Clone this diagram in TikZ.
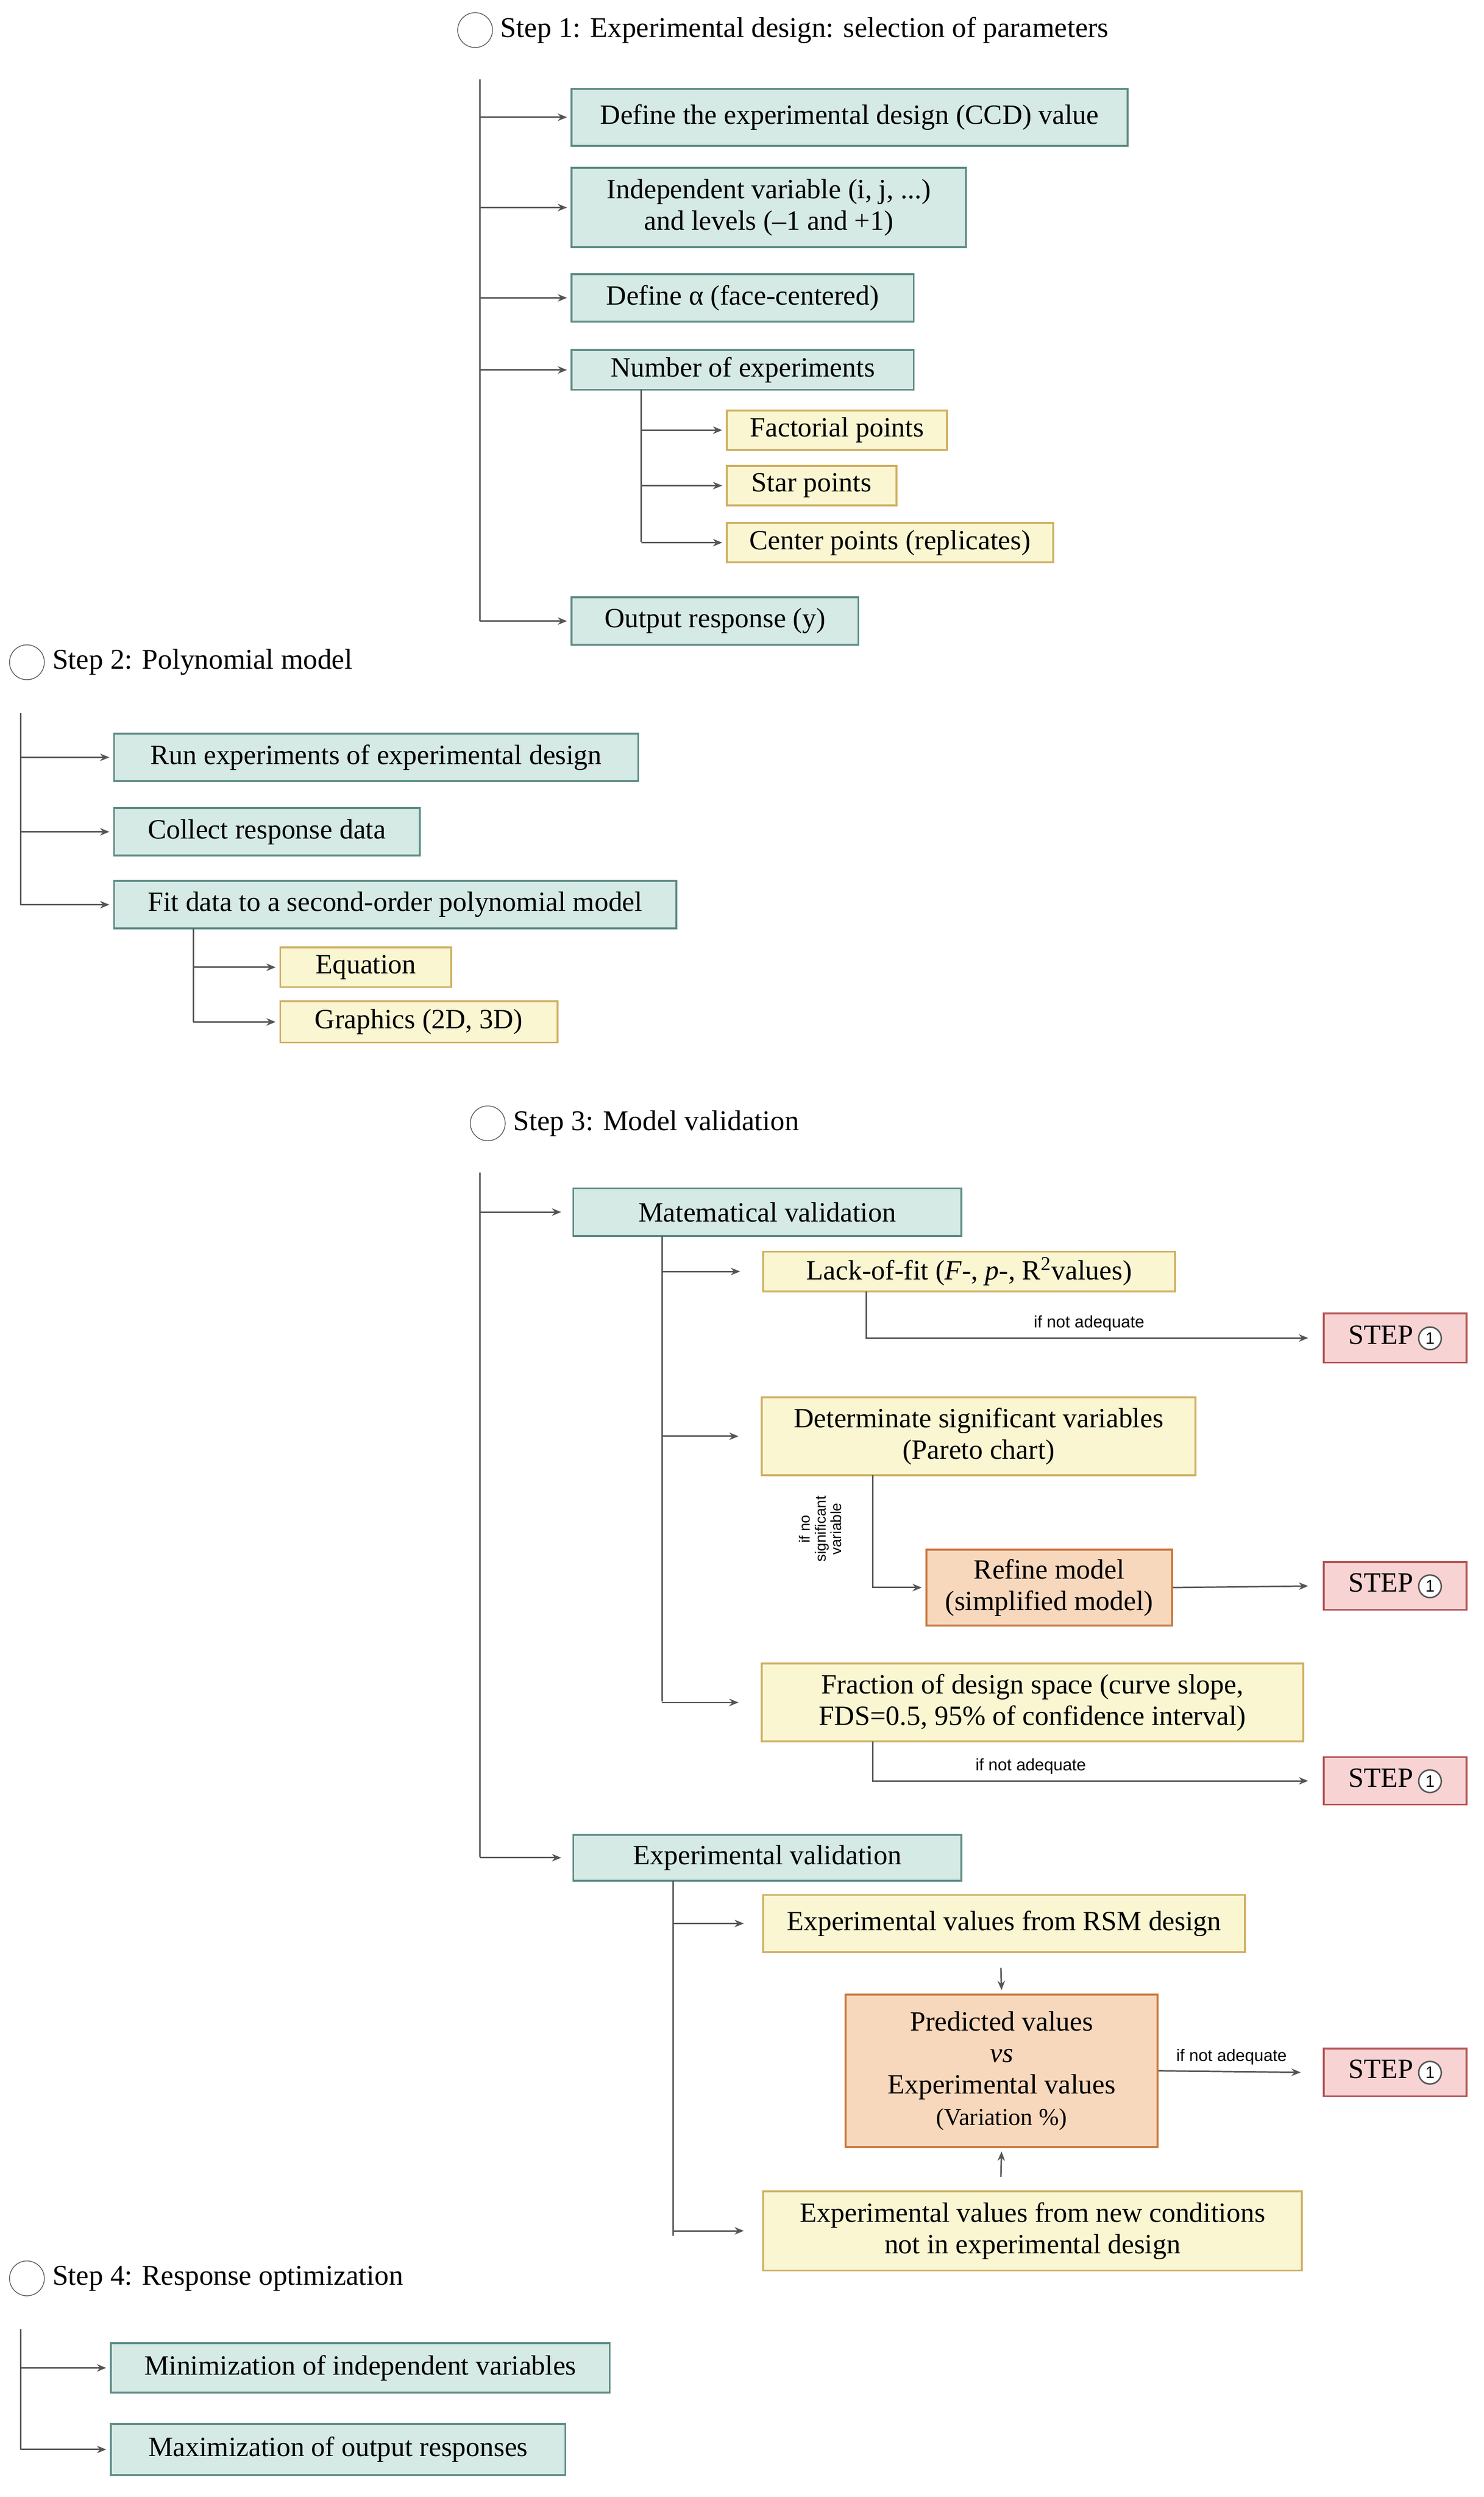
\documentclass[tikz,border=0pt]{standalone}
\usepackage{fontspec}
\setmainfont{Liberation Serif}
\newfontfamily\sansf{Liberation Sans}
\usetikzlibrary{arrows.meta}
\definecolor{tealf}{HTML}{D5E9E5}\definecolor{teald}{HTML}{5E8C86}
\definecolor{yelf}{HTML}{FAF6D2}\definecolor{yeld}{HTML}{CFB063}
\definecolor{orf}{HTML}{F8D8BC}\definecolor{ord}{HTML}{C9773F}
\definecolor{pkf}{HTML}{F7D3D3}\definecolor{pkd}{HTML}{B65454}
\definecolor{ln}{HTML}{555555}
\newcommand\bx[7]{\node[#2, minimum width={(#5-#3)*0.03cm}, minimum height={(#6-#4)*0.03cm}] (#1) at ({(#3+#5)/2},{(#4+#6)/2}) {#7};}
\newcommand\onec{\tikz[baseline=(c.base)]\node[circle,draw=ln,fill=white,line width=0.8pt,minimum width=0pt,minimum height=0pt,inner sep=1.5pt,font=\sansf\small](c){1};}
\begin{document}
\begin{tikzpicture}[x=0.03cm,y=-0.03cm,
 box/.style={draw, line width=1pt, inner sep=0pt, align=center, font=\fontsize{15}{17}\selectfont},
 tl/.style={box,fill=tealf,draw=teald},
 yl/.style={box,fill=yelf,draw=yeld},
 org/.style={box,fill=orf,draw=ord},
 pk/.style={box,fill=pkf,draw=pkd},
 stc/.style={circle,draw=ln,fill=white,minimum size=0.66cm,inner sep=0pt},
 stt/.style={anchor=west,font=\fontsize{15.4}{17}\selectfont},
 ln/.style={draw=ln,line width=0.8pt},
 arr/.style={ln,-{Stealth[length=5pt,width=4pt]},shorten >=2pt},
 lab/.style={font=\sansf\fontsize{9}{10}\selectfont}]
\useasboundingbox (0,0) rectangle (937,1576);
% Step 1
\node[stc] (s1) at (300,19) {};
\node[stt] (s1t) at (312,19) {Step 1: Experimental design: selection of parameters};
\bx{b1}{tl}{361}{56}{712}{92}{Define the experimental design (CCD) value}
\bx{b2}{tl}{361}{106}{610}{156}{Independent variable (i, j, ...)\\and levels (\textendash1 and +1)}
\bx{b3}{tl}{361}{173}{577}{203}{Define α (face-centered)}
\bx{b4}{tl}{361}{221}{577}{246}{Number of experiments}
\bx{y1}{yl}{459}{259}{598}{284}{Factorial points}
\bx{y2}{yl}{459}{294}{566}{319}{Star points}
\bx{y3}{yl}{459}{330}{665}{355}{Center points (replicates)}
\bx{b5}{tl}{361}{377}{542}{407}{Output response (y)}
\coordinate (t1) at (303,50); \coordinate (t1e) at (303,392);
\draw[ln] (t1) -- (t1e);
\foreach \n in {b1,b2,b3,b4,b5} \draw[arr] (t1 |- \n.west) -- (\n.west);
\coordinate (t2) at (405,246); \coordinate (t2e) at (405,342);
\draw[ln] (t2) -- (t2e);
\foreach \n in {y1,y2,y3} \draw[arr] (t2 |- \n.west) -- (\n.west);
% Step 2
\node[stc] (s2) at (17,418) {};
\node[stt] (s2t) at (29,418) {Step 2: Polynomial model};
\bx{c1}{tl}{72}{463}{403}{493}{Run experiments of experimental design}
\bx{c2}{tl}{72}{510}{265}{540}{Collect response data}
\bx{c3}{tl}{72}{556}{427}{586}{Fit data to a second-order polynomial model}
\bx{c4}{yl}{177}{598}{285}{623}{Equation}
\bx{c5}{yl}{177}{632}{352}{658}{Graphics (2D, 3D)}
\coordinate (t3) at (13,450); \coordinate (t3e) at (13,571);
\draw[ln] (t3) -- (t3e);
\foreach \n in {c1,c2,c3} \draw[arr] (t3 |- \n.west) -- (\n.west);
\coordinate (t4) at (122,586); \coordinate (t4e) at (122,645);
\draw[ln] (t4) -- (t4e);
\foreach \n in {c4,c5} \draw[arr] (t4 |- \n.west) -- (\n.west);
% Step 3
\node[stc] (s3) at (308,709) {};
\node[stt] (s3t) at (320,709) {Step 3: Model validation};
\bx{d1}{tl}{362}{750}{607}{780}{Matematical validation}
\bx{d2}{tl}{362}{1158}{607}{1187}{Experimental validation}
\bx{e1}{yl}{482}{790}{742}{815}{Lack-of-fit (\textit{F}-, \textit{p}-, R\textsuperscript{2}values)}
\bx{e2}{yl}{481}{882}{755}{931}{Determinate significant variables\\(Pareto chart)}
\bx{e3}{yl}{481}{1050}{823}{1099}{Fraction of design space (curve slope,\\FDS=0.5, 95\% of confidence interval)}
\bx{rf}{org}{585}{978}{740}{1026}{Refine model\\(simplified model)}
\bx{p1}{pk}{836}{829}{926}{860}{STEP\,\onec}
\bx{p2}{pk}{836}{986}{926}{1016}{STEP\,\onec}
\bx{p3}{pk}{836}{1109}{926}{1139}{STEP\,\onec}
\bx{f1}{yl}{482}{1196}{786}{1232}{Experimental values from RSM design}
\bx{pv}{org}{534}{1259}{731}{1355}{Predicted values\\\textit{vs}\\Experimental values\\{\fontsize{13}{15}\selectfont(Variation \%)}}
\bx{f2}{yl}{482}{1383}{822}{1433}{Experimental values from new conditions\\not in experimental design}
\bx{p4}{pk}{836}{1293}{926}{1323}{STEP\,\onec}
\coordinate (t5) at (303,740); \coordinate (t5e) at (303,1172);
\draw[ln] (t5) -- (t5e);
\foreach \n in {d1,d2} \draw[arr] (t5 |- \n.west) -- ([xshift=-4pt]\n.west);
\coordinate (t6) at (418,780); \coordinate (t6e) at (418,1074);
\draw[ln] (t6) -- (t6e);
\foreach \n in {e1,e2,e3} \draw[arr] (t6 |- \n.west) -- ([xshift=-10pt]\n.west);
\coordinate (k1) at (547,815); \coordinate (k2) at (551,931); \coordinate (k3) at (551,1099);
\draw[arr] (k1) |- ([xshift=-6pt]p1.west) node[lab,pos=0.75,above] {if not adequate};
\draw[arr] (k2) |- (rf.west);
\node[lab,rotate=90,align=center,font=\sansf\fontsize{8}{8.5}\selectfont] (nsv) at (518,965) {if no\\significant\\variable};
\draw[arr] (rf.east) -- ([xshift=-6pt]p2.west);
\draw[arr] (k3) |- ([xshift=-6pt]p3.west) node[lab,pos=0.68,above] {if not adequate};
\coordinate (t7) at (425,1187); \coordinate (t7e) at (425,1411);
\draw[ln] (t7) -- (t7e);
\foreach \n in {f1,f2} \draw[arr] (t7 |- \n.west) -- ([xshift=-8pt]\n.west);
\coordinate (q1) at (632,1242); \coordinate (q2) at (632,1374);
\draw[arr] (q1) -- (pv.north);
\draw[arr] (q2) -- (pv.south);
\draw[arr] (pv.east) -- ([xshift=-10pt]p4.west) node[lab,midway,above] {if not adequate};
% Step 4
\node[stc] (s4) at (17,1438) {};
\node[stt] (s4t) at (29,1438) {Step 4: Response optimization};
\bx{g1}{tl}{70}{1479}{385}{1510}{Minimization of independent variables}
\bx{g2}{tl}{70}{1530}{357}{1562}{Maximization of output responses}
\coordinate (t8) at (13,1470); \coordinate (t8e) at (13,1546);
\draw[ln] (t8) -- (t8e);
\foreach \n in {g1,g2} \draw[arr] (t8 |- \n.west) -- (\n.west);
\end{tikzpicture}
\end{document}
